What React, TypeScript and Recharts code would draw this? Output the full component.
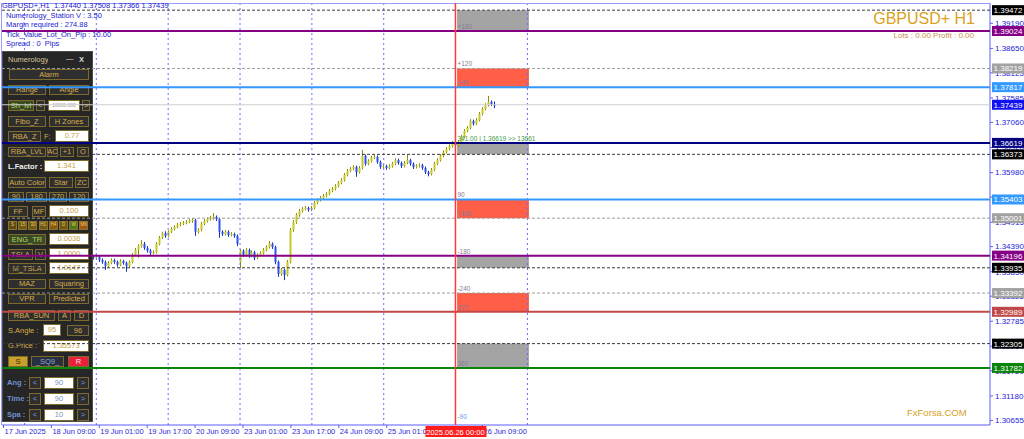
import React from 'react'
import { Bar, ComposedChart, Line, ReferenceArea, ReferenceDot, ReferenceLine, XAxis, YAxis } from 'recharts'

// GBPUSD+ H1 with the Numerology Station overlay, MT4 look.
const FONT = '"Liberation Sans", Arial, sans-serif'
const CHART_W = 1024
const CHART_H = 439
const AXIS_BLUE = '#5c5cff'
const PRICE_DOMAIN: [number, number] = [1.30556, 1.39626]
const SLOT_COUNT = 330 // H1 bar slots, including the chart-shift area on the right

// H1 candles from 17 Jun 17:00 to 26 Jun 12:00 (bars under the panel are estimates)
const OPEN = [
  1.3566, 1.3561, 1.3556, 1.355, 1.3546, 1.3548, 1.3539, 1.3531, 1.3524, 1.3518,
  1.3513, 1.3507, 1.3501, 1.3496, 1.3492, 1.3486, 1.3479, 1.3475, 1.3468, 1.3462,
  1.3458, 1.3451, 1.3447, 1.344, 1.3436, 1.3432, 1.3427, 1.3423, 1.3421, 1.3419,
  1.3417, 1.3415, 1.3417, 1.341, 1.3406, 1.3397, 1.3404, 1.341, 1.3406, 1.34,
  1.3408, 1.3404, 1.3397, 1.3406, 1.3421, 1.3432, 1.344, 1.3445, 1.3436, 1.343,
  1.3425, 1.3427, 1.3445, 1.3458, 1.3468, 1.3462, 1.3471, 1.3477, 1.3481, 1.3486,
  1.3488, 1.349, 1.3492, 1.3494, 1.3496, 1.3471, 1.3475, 1.3488, 1.3494, 1.3498,
  1.3501, 1.3503, 1.3498, 1.3471, 1.3466, 1.3471, 1.3464, 1.3466, 1.3462, 1.3406,
  1.343, 1.3421, 1.3432, 1.3419, 1.3427, 1.3415, 1.3421, 1.3425, 1.3432, 1.3438,
  1.3445, 1.3438, 1.3406, 1.338, 1.3389, 1.3378, 1.3406, 1.3475, 1.3492, 1.3507,
  1.3516, 1.352, 1.3522, 1.3518, 1.3522, 1.3533, 1.3539, 1.3544, 1.3548, 1.3552,
  1.3559, 1.3563, 1.3569, 1.3576, 1.3582, 1.3593, 1.3602, 1.3606, 1.361, 1.3599,
  1.3608, 1.3634, 1.3617, 1.3623, 1.363, 1.3632, 1.3621, 1.361, 1.3612, 1.3608,
  1.3612, 1.3617, 1.3625, 1.3619, 1.3612, 1.3619, 1.3625, 1.3617, 1.361, 1.3612,
  1.3614, 1.3608, 1.3599, 1.3595, 1.3604, 1.3617, 1.3625, 1.3634, 1.3642, 1.3649,
  1.3655, 1.3662, 1.3657, 1.3664, 1.3675, 1.3688, 1.3694, 1.3709, 1.3703, 1.3711,
  1.3724, 1.3735, 1.3743, 1.375, 1.3744,
]
const HIGH = [
  1.357, 1.3565, 1.3559, 1.3554, 1.3553, 1.3551, 1.3542, 1.3535, 1.3528, 1.3522,
  1.3516, 1.3511, 1.3505, 1.35, 1.3495, 1.349, 1.3483, 1.3478, 1.3472, 1.3466,
  1.3461, 1.3455, 1.345, 1.3444, 1.344, 1.3435, 1.3431, 1.3427, 1.3425, 1.3423,
  1.3421, 1.3422, 1.342, 1.3414, 1.3409, 1.3408, 1.3414, 1.3413, 1.3409, 1.3412,
  1.3411, 1.3407, 1.3409, 1.3425, 1.3436, 1.3444, 1.3453, 1.3449, 1.344, 1.3434,
  1.3431, 1.3449, 1.3462, 1.3471, 1.3472, 1.3474, 1.3481, 1.3485, 1.349, 1.3492,
  1.3494, 1.3496, 1.3498, 1.35, 1.3499, 1.3479, 1.3492, 1.3498, 1.3502, 1.3505,
  1.3511, 1.3506, 1.3501, 1.3474, 1.3475, 1.3474, 1.347, 1.3469, 1.3465, 1.3434,
  1.3433, 1.3436, 1.3435, 1.3431, 1.343, 1.3425, 1.3429, 1.3436, 1.3442, 1.3451,
  1.3448, 1.3441, 1.3409, 1.3393, 1.3392, 1.341, 1.3479, 1.3496, 1.3511, 1.352,
  1.3524, 1.3526, 1.3525, 1.3526, 1.3537, 1.3543, 1.3548, 1.3552, 1.3556, 1.3563,
  1.3567, 1.3573, 1.358, 1.3586, 1.3597, 1.3606, 1.361, 1.3614, 1.3613, 1.3612,
  1.3647, 1.3637, 1.3627, 1.3634, 1.3636, 1.3635, 1.3624, 1.3616, 1.3615, 1.3616,
  1.3621, 1.3629, 1.3628, 1.3622, 1.3623, 1.3636, 1.3628, 1.362, 1.3616, 1.3618,
  1.3617, 1.3611, 1.3602, 1.3608, 1.3621, 1.3629, 1.3638, 1.3646, 1.3653, 1.3659,
  1.3666, 1.3665, 1.3668, 1.3679, 1.3692, 1.3698, 1.3713, 1.3712, 1.3715, 1.3728,
  1.3739, 1.3747, 1.3763, 1.3753, 1.37508,
]
const LOW = [
  1.3557, 1.3552, 1.3546, 1.3541, 1.3543, 1.3535, 1.3527, 1.352, 1.3514, 1.3509,
  1.3503, 1.3497, 1.3492, 1.3488, 1.3482, 1.3475, 1.3471, 1.3464, 1.3458, 1.3454,
  1.3447, 1.3443, 1.3436, 1.3432, 1.3428, 1.3423, 1.3419, 1.3417, 1.3415, 1.3413,
  1.3411, 1.3411, 1.3406, 1.3402, 1.3389, 1.3394, 1.3401, 1.3402, 1.3396, 1.3397,
  1.34, 1.3385, 1.3394, 1.3403, 1.3418, 1.3415, 1.3437, 1.3432, 1.3426, 1.3421,
  1.3422, 1.3424, 1.3442, 1.3455, 1.3458, 1.3459, 1.3468, 1.3474, 1.3478, 1.3483,
  1.3485, 1.3487, 1.3489, 1.349, 1.3462, 1.3467, 1.3472, 1.3485, 1.3491, 1.3495,
  1.3497, 1.3494, 1.3458, 1.3462, 1.3463, 1.346, 1.3461, 1.3458, 1.344, 1.3393,
  1.3417, 1.3418, 1.3415, 1.3416, 1.341, 1.3412, 1.3418, 1.3422, 1.3429, 1.3435,
  1.3434, 1.3401, 1.3374, 1.3376, 1.3367, 1.3375, 1.3403, 1.3471, 1.3488, 1.3503,
  1.3512, 1.3517, 1.3514, 1.3515, 1.3519, 1.353, 1.3536, 1.354, 1.3545, 1.3549,
  1.3556, 1.356, 1.3566, 1.3573, 1.3579, 1.359, 1.3599, 1.3603, 1.3589, 1.3596,
  1.3605, 1.3613, 1.3614, 1.362, 1.3627, 1.3617, 1.3606, 1.3607, 1.3604, 1.3605,
  1.3609, 1.3614, 1.3615, 1.3608, 1.3609, 1.3616, 1.3613, 1.3606, 1.3607, 1.3609,
  1.3604, 1.3595, 1.359, 1.3592, 1.3601, 1.3614, 1.3622, 1.3631, 1.3639, 1.3646,
  1.3652, 1.3653, 1.3654, 1.3661, 1.3672, 1.3685, 1.3691, 1.3699, 1.37, 1.3708,
  1.3721, 1.3732, 1.374, 1.3741, 1.37366,
]
const CLOSE = [
  1.3561, 1.3556, 1.355, 1.3546, 1.3548, 1.3539, 1.3531, 1.3524, 1.3518, 1.3513,
  1.3507, 1.3501, 1.3496, 1.3492, 1.3486, 1.3479, 1.3475, 1.3468, 1.3462, 1.3458,
  1.3451, 1.3447, 1.344, 1.3436, 1.3432, 1.3427, 1.3423, 1.3421, 1.3419, 1.3417,
  1.3415, 1.3417, 1.341, 1.3406, 1.3397, 1.3404, 1.341, 1.3406, 1.34, 1.3408,
  1.3404, 1.3397, 1.3406, 1.3421, 1.3432, 1.344, 1.3445, 1.3436, 1.343, 1.3425,
  1.3427, 1.3445, 1.3458, 1.3468, 1.3462, 1.3471, 1.3477, 1.3481, 1.3486, 1.3488,
  1.349, 1.3492, 1.3494, 1.3496, 1.3471, 1.3475, 1.3488, 1.3494, 1.3498, 1.3501,
  1.3503, 1.3498, 1.3471, 1.3466, 1.3471, 1.3464, 1.3466, 1.3462, 1.3445, 1.343,
  1.3421, 1.3432, 1.3419, 1.3427, 1.3415, 1.3421, 1.3425, 1.3432, 1.3438, 1.3445,
  1.3438, 1.3406, 1.338, 1.3389, 1.3378, 1.3406, 1.3475, 1.3492, 1.3507, 1.3516,
  1.352, 1.3522, 1.3518, 1.3522, 1.3533, 1.3539, 1.3544, 1.3548, 1.3552, 1.3559,
  1.3563, 1.3569, 1.3576, 1.3582, 1.3593, 1.3602, 1.3606, 1.361, 1.3599, 1.3608,
  1.3634, 1.3617, 1.3623, 1.363, 1.3632, 1.3621, 1.361, 1.3612, 1.3608, 1.3612,
  1.3617, 1.3625, 1.3619, 1.3612, 1.3619, 1.3625, 1.3617, 1.361, 1.3612, 1.3614,
  1.3608, 1.3599, 1.3595, 1.3604, 1.3617, 1.3625, 1.3634, 1.3642, 1.3649, 1.3655,
  1.3662, 1.3657, 1.3664, 1.3675, 1.3688, 1.3694, 1.3709, 1.3703, 1.3711, 1.3724,
  1.3735, 1.3743, 1.375, 1.3745, 1.37439,
]

// time labels every 16 bars (the 25 Jun 17:00 one sits under the red date box)
const TIME_TICKS = [0, 16, 32, 48, 64, 80, 96, 112, 128, 160]
const TIME_LABELS = [
  '17 Jun 2025', '18 Jun 09:00', '19 Jun 01:00', '19 Jun 17:00', '20 Jun 09:00', '23 Jun 01:00',
  '23 Jun 17:00', '24 Jun 09:00', '25 Jun 01:00', '26 Jun 09:00',
]
// period separators (first bar of each day)
const DAY_STARTS = [7, 31, 55, 79, 103, 127]
const CURRENT_DAY = 151
const CURRENT_DAY_LABEL = '2025.06.26 00:00'

const PRICE_TICKS = [
  1.3919, 1.3865, 1.38125, 1.37585, 1.3706, 1.3652, 1.3598, 1.35455, 1.34915,
  1.3439, 1.3385, 1.33325, 1.32785, 1.3225, 1.3172, 1.3118, 1.30655,
]

// horizontal levels drawn by the indicator (+ bid)
const LEVEL_PRICES = [
  1.39472, 1.39024, 1.38219, 1.37817, 1.37439, 1.36619, 1.36373, 1.35403,
  1.35001, 1.34196, 1.33935, 1.33392, 1.32989, 1.32305, 1.31782,
]
const LEVEL_KINDS = [
  'blackDash', 'purple', 'grayDash', 'blue', 'bid', 'navy', 'blackDash', 'blue',
  'grayDash', 'purple', 'blackDash', 'grayDash', 'brown', 'blackDash', 'green',
]

const ZONE_HIGH = [1.39472, 1.38219, 1.36619, 1.35403, 1.34196, 1.33392, 1.32305]
const ZONE_LOW = [1.39024, 1.37817, 1.36373, 1.35001, 1.33935, 1.32989, 1.31782]
const ZONE_KINDS = ['neutral', 'hot', 'neutral', 'hot', 'neutral', 'hot', 'neutral']
const ZONE_FROM = 152
const ZONE_TO = 175

const NOTE_PRICES = [
  1.39024, 1.38219, 1.37817, 1.36619, 1.35403, 1.35001, 1.34196, 1.33392, 1.32989, 1.31782, 1.3064,
]
const NOTE_TEXTS = [
  '+180', '+120', '+90', '341.00 | 1.36619  >> 13661', '90', '+180', '-180', '-240', '270', '360', '-90',
]
const NOTE_KINDS = ['dim', 'dim', 'dim', 'info', 'dim', 'dim', 'dim', 'dim', 'dim', 'dim', 'cool']

const LEVEL_STYLE: Record<string, { stroke: string; width: number; dash?: string; tag: string }> = {
  blackDash: { stroke: '#3a3a3a', width: 1, dash: '3 2', tag: '#000000' },
  purple: { stroke: '#850085', width: 2, tag: '#850085' },
  grayDash: { stroke: '#9c9c9c', width: 1, dash: '3 2', tag: '#a2a2a2' },
  blue: { stroke: '#3399ff', width: 2, tag: '#3399ff' },
  bid: { stroke: '#cfcfcf', width: 1, tag: '#1010f0' },
  navy: { stroke: '#000080', width: 2, tag: '#000080' },
  brown: { stroke: '#c04848', width: 2, tag: '#c04848' },
  green: { stroke: '#0a840a', width: 2, tag: '#0a840a' },
}
const ZONE_FILL: Record<string, string> = { neutral: '#a4a4a4', hot: '#ff5e47' }
const NOTE_FILL: Record<string, string> = { dim: '#8a7b96', info: '#3f9a3f', cool: '#6d9be6' }

const rows = Array.from({ length: SLOT_COUNT }, (_, i) =>
  i < CLOSE.length
    ? { i, o: OPEN[i], h: HIGH[i], l: LOW[i], c: CLOSE[i], range: [LOW[i], HIGH[i]] }
    : { i },
)

function Candle(props: any) {
  const { x, y, width, height, payload } = props
  if (!payload || payload.o == null) return null
  const { o, h, l, c } = payload
  const top = Math.min(y, y + height)
  const span = Math.abs(height)
  const k = h === l ? 0 : span / (h - l)
  const yO = top + (h - o) * k
  const yC = top + (h - c) * k
  const cx = Math.floor(x + width / 2)
  const bull = c >= o
  const bodyTop = Math.min(yO, yC)
  const bodyH = Math.max(1, Math.abs(yC - yO))
  return (
    <g>
      <line x1={cx + 0.5} x2={cx + 0.5} y1={top} y2={top + span} stroke={bull ? '#8c8c00' : '#1a2fb8'} />
      <rect x={cx - 0.5} y={bodyTop} width={2} height={bodyH} fill={bull ? '#c6c626' : '#2a52ee'} />
    </g>
  )
}

function TimeTick(props: any) {
  const { x, y, payload } = props
  const label = TIME_LABELS[TIME_TICKS.indexOf(payload.value)]
  return (
    <text x={x + 1} y={y + 4} fontSize={7.5} fontFamily={FONT} fill="#2a2ad6">
      {label}
    </text>
  )
}

const priceTag = (bg: string, value: string) => (p: any) => {
  const vb = p.viewBox
  if (!vb) return null
  const x = vb.x + vb.width + 2
  return (
    <g>
      <rect x={x} y={vb.y - 5} width={32} height={10} fill={bg} />
      <text x={x + 16} y={vb.y + 3} textAnchor="middle" fontSize={8} fontFamily={FONT} fill="#ffffff">
        {value}
      </text>
    </g>
  )
}

const noteLabel = (text: string, fill: string) => (p: any) => {
  const vb = p.viewBox
  if (!vb) return null
  return (
    <text x={vb.x + 2} y={vb.y - 2} fontSize={6.5} fontFamily={FONT} fill={fill}>
      {text}
    </text>
  )
}

const dateLabel = (p: any) => {
  const vb = p.viewBox
  if (!vb) return null
  const bottom = vb.y + vb.height
  return (
    <g>
      <rect x={vb.x - 30} y={bottom + 1} width={61} height={11} fill="#ff1c1c" />
      <text x={vb.x} y={bottom + 9.5} textAnchor="middle" fontSize={7.5} fontFamily={FONT} fill="#ffffff">
        {CURRENT_DAY_LABEL}
      </text>
    </g>
  )
}

// ---- Numerology panel (MT4 on-chart control panel) ----
const BTN: Record<string, React.CSSProperties> = {
  plain: { background: '#2f2f2f', border: '1px solid #7d6b2e', color: '#d6ac4c' },
  green: { background: '#3a4a26', border: '1px solid #7d6b2e', color: '#b8d45a' },
  input: { background: '#ffffff', border: '1px solid #7d6b2e', color: '#c99f43' },
  tiny: { background: '#ffffff', border: '1px solid #7d6b2e', color: '#9a9a9a', fontSize: 5 },
  gold: { background: '#c9a02c', border: '1px solid #7d6b2e', color: '#3a2a00' },
  red: { background: '#e8203c', border: '1px solid #7d6b2e', color: '#ffe0e0' },
  navy: { background: '#283040', border: '1px solid #7d6b2e', color: '#8fa6d8' },
  nav: { background: '#2f2f2f', border: '1px solid #7d6b2e', color: '#7f9fd8' },
  navInput: { background: '#ffffff', border: '1px solid #7d6b2e', color: '#7b93c2' },
  text: { color: '#d6ac4c', justifyContent: 'flex-start' },
  textWhite: { color: '#f0f0f0', justifyContent: 'flex-start', fontWeight: 700 },
  textBlue: { color: '#6f8fd0', justifyContent: 'flex-start', fontWeight: 700 },
}

const PANEL_LAYOUT: [string, number, number, number, number, string][] = [
  ['Alarm', 8, 68, 80, 11, 'plain'],
  ['Range', 7, 84, 38, 10, 'plain'], ['Angle', 48, 84, 40, 10, 'plain'],
  ['Sh_lvl', 7, 99, 26, 11, 'green'], ['<', 35, 99, 9, 11, 'plain'], ['10000.000', 47, 99, 32, 11, 'tiny'], ['>', 81, 99, 8, 11, 'plain'],
  ['Fibo_Z', 7, 115, 38, 11, 'plain'], ['H Zones', 48, 115, 40, 11, 'plain'],
  ['RBA_Z', 7, 130, 33, 11, 'plain'], ['F:', 43, 130, 10, 11, 'text'], ['0.77', 54, 129, 34, 12, 'input'],
  ['RBA_LVL', 7, 146, 38, 10, 'plain'], ['AC', 46, 146, 11, 10, 'plain'], ['+1', 59, 146, 14, 10, 'plain'], ['O', 76, 146, 12, 10, 'plain'],
  ['L.Factor :', 7, 160, 36, 12, 'textWhite'], ['1.341', 43, 159, 45, 12, 'input'],
  ['Auto Color', 7, 176, 38, 11, 'plain'], ['Star', 48, 176, 24, 11, 'plain'], ['ZC', 74, 176, 14, 11, 'plain'],
  ['90', 7, 191, 16, 10, 'plain'], ['180', 25, 191, 21, 10, 'plain'], ['270', 48, 191, 18, 10, 'plain'], ['120', 68, 191, 20, 10, 'plain'],
  ['FF', 7, 205, 20, 11, 'plain'], ['MF', 31, 205, 14, 11, 'plain'], ['0.100', 48, 204, 40, 12, 'input'],
  ['ENG_TR', 7, 233, 38, 11, 'green'], ['0.0036', 48, 232, 40, 12, 'input'],
  ['TSLA', 7, 248, 25, 11, 'plain'], ['V', 34, 248, 11, 11, 'plain'], ['1.0000', 48, 247, 40, 12, 'input'],
  ['M_TSLA', 7, 262, 38, 11, 'plain'], ['1.0147', 48, 261, 40, 12, 'input'],
  ['MAZ', 7, 278, 38, 10, 'plain'], ['Squaring', 48, 278, 40, 10, 'plain'],
  ['VPR', 7, 293, 38, 10, 'plain'], ['Predicted', 48, 293, 40, 10, 'plain'],
  ['RBA_SUN', 7, 309, 47, 11, 'plain'], ['A', 57, 309, 13, 11, 'plain'], ['D', 73, 309, 15, 11, 'plain'],
  ['S.Angle :', 7, 324, 34, 12, 'text'], ['95', 42, 323, 18, 12, 'input'], ['96', 66, 324, 22, 11, 'plain'],
  ['G.Price :', 7, 339, 34, 12, 'text'], ['1.35573', 42, 339, 46, 12, 'input'],
  ['S', 7, 355, 20, 11, 'gold'], ['_SQ9_', 30, 355, 33, 11, 'navy'], ['R', 67, 355, 21, 11, 'red'],
  ['Ang :', 6, 376, 22, 12, 'textBlue'], ['<', 28, 376, 12, 12, 'nav'], ['90', 43, 376, 30, 12, 'navInput'], ['>', 76, 376, 12, 12, 'nav'],
  ['Time :', 6, 392, 22, 12, 'textBlue'], ['<', 28, 392, 12, 12, 'nav'], ['90', 43, 392, 30, 12, 'navInput'], ['>', 76, 392, 12, 12, 'nav'],
  ['Spa :', 6, 408, 22, 12, 'textBlue'], ['<', 28, 408, 12, 12, 'nav'], ['10', 43, 408, 30, 12, 'navInput'], ['>', 76, 408, 12, 12, 'nav'],
]
const TF_CHIPS = ['S', '15', '30', 'H1', 'H4', 'D', 'W', 'MN']
const TF_COLORS = ['#5e4e16', '#6e5a14', '#6e5a14', '#6e5a14', '#8a5a10', '#6e5a14', '#4e7a1a', '#a05a14']

function Panel() {
  const base: React.CSSProperties = {
    position: 'absolute', boxSizing: 'border-box', display: 'flex', alignItems: 'center',
    justifyContent: 'center', fontFamily: FONT, fontSize: 7.5, lineHeight: 1, whiteSpace: 'nowrap', overflow: 'hidden',
  }
  return (
    <div style={{ position: 'absolute', left: 2, top: 51, width: 91, height: 371, background: '#262626', border: '1px solid #4c4c4c', boxSizing: 'border-box' }}>
      <div style={{ position: 'absolute', inset: 0 }}>
        <div style={{ ...base, left: 5, top: 3, height: 10, color: '#d8c49a', justifyContent: 'flex-start' }}>Numerology</div>
        <div style={{ ...base, left: 63, top: 2, height: 10, color: '#dddddd' }}>—</div>
        <div style={{ ...base, left: 76, top: 3, height: 10, color: '#dddddd', fontWeight: 700 }}>X</div>
        {PANEL_LAYOUT.map(([label, x, y, w, h, kind], k) => (
          <div key={k} style={{ ...base, left: x - 2, top: y - 51, width: w, height: h, ...BTN[kind] }}>{label}</div>
        ))}
        {TF_CHIPS.map((label, k) => (
          <div key={label} style={{ ...base, left: 5 + k * 10.2, top: 169, width: 9, height: 9, fontSize: 4.5, background: TF_COLORS[k], border: '1px solid #8a7430', color: '#f0c860' }}>{label}</div>
        ))}
      </div>
    </div>
  )
}

export default function App() {
  const levelLines = LEVEL_PRICES.map((price, k) => {
    const st = LEVEL_STYLE[LEVEL_KINDS[k]]
    return (
      <ReferenceLine
        key={`lv${k}`}
        y={price}
        stroke={st.stroke}
        strokeWidth={st.width}
        strokeDasharray={st.dash}
        label={priceTag(st.tag, price.toFixed(5))}
      />
    )
  })

  return (
    <div style={{ position: 'absolute', left: 0, top: 0, width: CHART_W, height: CHART_H, overflow: 'hidden', background: '#ffffff' }}>
      {/* layer 1: candles, zones, separators, axes */}
      <div style={{ position: 'absolute', left: 0, top: 0 }}>
        <ComposedChart width={CHART_W} height={CHART_H} data={rows} margin={{ top: 3, right: 0, bottom: 0, left: 2 }} barCategoryGap={0}>
          <XAxis
            dataKey="i"
            type="category"
            ticks={TIME_TICKS}
            interval={0}
            height={14}
            tickSize={3}
            axisLine={{ stroke: AXIS_BLUE }}
            tickLine={{ stroke: AXIS_BLUE }}
            tick={<TimeTick />}
          />
          <YAxis
            orientation="right"
            width={34}
            type="number"
            domain={PRICE_DOMAIN}
            allowDataOverflow
            ticks={PRICE_TICKS}
            interval={0}
            tickSize={3}
            axisLine={{ stroke: AXIS_BLUE }}
            tickLine={{ stroke: AXIS_BLUE }}
            tick={{ fontSize: 8, fill: '#2424d8', fontFamily: FONT }}
            tickFormatter={(v: number) => v.toFixed(5)}
          />
          {DAY_STARTS.map((d) => (
            <ReferenceLine key={`d${d}`} x={d} stroke="#6b6bff" strokeDasharray="2 3" />
          ))}
          <ReferenceLine x={ZONE_TO} stroke="#6b6bff" strokeDasharray="2 3" />
          {ZONE_HIGH.map((hi, k) => (
            <ReferenceArea
              key={`z${k}`}
              x1={ZONE_FROM}
              x2={ZONE_TO}
              y1={ZONE_LOW[k]}
              y2={hi}
              fill={ZONE_FILL[ZONE_KINDS[k]]}
              fillOpacity={1}
              stroke="none"
            />
          ))}
          <Bar dataKey="range" shape={<Candle />} isAnimationActive={false} />
        </ComposedChart>
      </div>

      {/* chart frame (top / left edges) */}
      <div style={{ position: 'absolute', left: 1, top: 3, width: 989, height: 422, borderTop: '1px solid #9a9aff', borderLeft: '1px solid #9a9aff', boxSizing: 'border-box' }} />

      <Panel />

      {/* layer 3: indicator levels drawn on top of the panel */}
      <div style={{ position: 'absolute', left: 0, top: 0 }}>
        <ComposedChart width={CHART_W} height={CHART_H} data={rows} margin={{ top: 3, right: 34, bottom: 14, left: 2 }}>
          <XAxis dataKey="i" type="category" hide />
          <YAxis type="number" domain={PRICE_DOMAIN} allowDataOverflow hide />
          <Line dataKey="c" stroke="none" dot={false} activeDot={false} isAnimationActive={false} />
          {levelLines}
          <ReferenceLine x={CURRENT_DAY} stroke="#ff3b3b" strokeWidth={1.5} label={dateLabel} />
          {NOTE_PRICES.map((price, k) => (
            <ReferenceDot
              key={`n${k}`}
              x={CURRENT_DAY}
              y={price}
              r={0}
              fill="none"
              stroke="none"
              label={noteLabel(NOTE_TEXTS[k], NOTE_FILL[NOTE_KINDS[k]])}
            />
          ))}
        </ComposedChart>
      </div>

      {/* terminal texts */}
      <div style={{ position: 'absolute', left: 2, top: 1, fontFamily: FONT, fontSize: 7.5, lineHeight: '9.5px', color: '#2222d2', whiteSpace: 'pre' }}>
        <div>{'GBPUSD+,H1  1.37440 1.37508 1.37366 1.37439'}</div>
        <div style={{ paddingLeft: 4 }}>Numerology_Station V : 3.50</div>
        <div style={{ paddingLeft: 4 }}>Margin required : 274.88</div>
        <div style={{ paddingLeft: 4 }}>Tick_Value_Lot_On_Pip : 10.00</div>
        <div style={{ paddingLeft: 4 }}>{'Spread : 0  Pips'}</div>
      </div>
      <div style={{ position: 'absolute', right: 1024 - 975, top: 11, fontFamily: FONT, fontSize: 16, lineHeight: 1, color: '#d9a21b' }}>GBPUSD+ H1</div>
      <div style={{ position: 'absolute', right: 1024 - 974, top: 32, fontFamily: FONT, fontSize: 8, lineHeight: 1, color: '#c99150' }}>Lots : 0.00 Profit : 0.00</div>
      <div style={{ position: 'absolute', left: 907, top: 408, fontFamily: FONT, fontSize: 9.5, lineHeight: 1, color: '#d9a21b' }}>FxForsa.COM</div>
    </div>
  )
}
